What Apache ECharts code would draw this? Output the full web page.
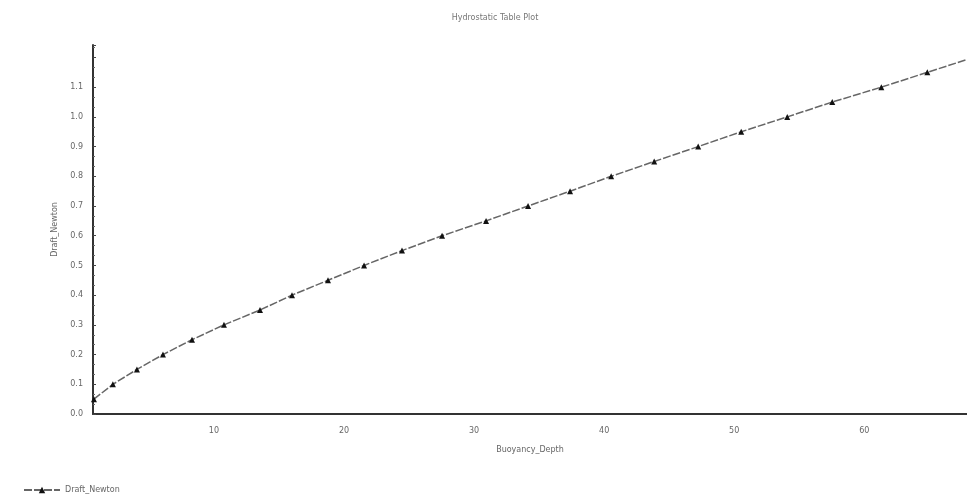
<!DOCTYPE html>
<html>
<head>
<meta charset="utf-8">
<script src="https://cdn.jsdelivr.net/npm/echarts@6/dist/echarts.min.js"></script>
<style>
  html, body { margin: 0; padding: 0; background: #fff; }
  #chart { width: 967px; height: 495px; }
</style>
</head>
<body>
<div id="chart"></div>
<script>
// values
const buoyancy = [0.77, 2.23, 4.08, 6.08, 8.31, 10.77, 13.54, 16.0, 18.77, 21.54, 24.46, 27.54,
  30.92, 34.15, 37.38, 40.54, 43.85, 47.23, 50.54, 54.08, 57.54, 61.31, 64.85, 68.4];
const draft = [0.05, 0.10, 0.15, 0.20, 0.25, 0.30, 0.35, 0.40, 0.45, 0.50, 0.55, 0.60,
  0.65, 0.70, 0.75, 0.80, 0.85, 0.90, 0.95, 1.00, 1.05, 1.10, 1.15, 1.20];
const xTicks = [10, 20, 30, 40, 50, 60];
const yTicks = [0, 0.1, 0.2, 0.3, 0.4, 0.5, 0.6, 0.7, 0.8, 0.9, 1.0, 1.1];

const points = buoyancy.map((b, i) => [b, draft[i]]);

const chart = echarts.init(document.getElementById('chart'));
const txt = { color: '#666', fontSize: 8, fontFamily: 'DejaVu Sans' };

chart.setOption({
  animation: false,
  title: {
    text: 'Hydrostatic Table Plot',
    left: 490, top: 9, textAlign: 'center',
    textStyle: { color: '#777', fontSize: 8, fontWeight: 'normal', fontFamily: 'DejaVu Sans' }
  },
  legend: {
    left: 18, top: 481,
    itemWidth: 36, itemHeight: 8, itemGap: 6,
    textStyle: txt,
    data: ['Draft_Newton']
  },
  grid: { left: 93, right: 0, top: 45, bottom: 81 },
  xAxis: {
    type: 'value',
    min: 0.7, max: 67.9,
    name: 'Buoyancy_Depth',
    nameLocation: 'middle', nameGap: 32,
    nameTextStyle: txt,
    axisLine: { lineStyle: { color: '#333', width: 2 } },
    axisTick: { show: false },
    axisLabel: { customValues: xTicks, margin: 13, ...txt },
    splitLine: { show: false }
  },
  yAxis: {
    type: 'value',
    min: 0, max: 1.242, interval: 0.1,
    name: 'Draft_Newton',
    nameLocation: 'middle', nameGap: 28, nameRotate: 90,
    nameTextStyle: txt,
    axisLine: { show: true, lineStyle: { color: '#333', width: 2 } },
    axisTick: { show: true, length: 3, inside: true, lineStyle: { color: '#444' } },
    minorTick: { show: true, splitNumber: 3, length: 2, lineStyle: { color: '#666' } },
    axisLabel: {
      customValues: yTicks, margin: 10, ...txt,
      formatter: v => v.toFixed(1)
    },
    splitLine: { show: false }
  },
  series: [{
    name: 'Draft_Newton',
    type: 'line',
    data: points,
    symbol: 'triangle',
    symbolSize: 6,
    clip: false,
    itemStyle: { color: '#111' },
    lineStyle: { color: '#666', width: 1.5, type: [8, 2] }
  }]
});
</script>
</body>
</html>
